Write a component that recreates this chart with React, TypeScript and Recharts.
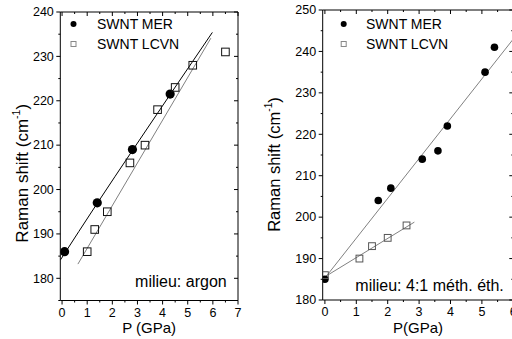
import React from "react";
import { ComposedChart, Scatter, Line, XAxis, YAxis, Legend } from "recharts";

const FONT = "'Liberation Sans', Arial, Helvetica, sans-serif";

/* ---------- left panel: argon ---------- */
const argonMer = [
  { p: 0.1, s: 186 },
  { p: 1.4, s: 197 },
  { p: 2.8, s: 209 },
  { p: 4.3, s: 221.5 },
];
const argonLcvn = [
  { p: 1.0, s: 186 },
  { p: 1.3, s: 191 },
  { p: 1.8, s: 195 },
  { p: 2.7, s: 206 },
  { p: 3.3, s: 210 },
  { p: 3.8, s: 218 },
  { p: 4.5, s: 223 },
  { p: 5.2, s: 228 },
  { p: 6.5, s: 231 },
];
// fitted curves
const argonMerFit = [
  { p: -0.07, s: 184.1 },
  { p: 1.4, s: 196.9 },
  { p: 2.8, s: 208.8 },
  { p: 4.3, s: 221.4 },
  { p: 5.98, s: 235.4 },
];
const argonLcvnFit = [
  { p: 0.63, s: 183.2 },
  { p: 5.92, s: 234.1 },
];
const argonXMajor = [0, 1, 2, 3, 4, 5, 6, 7];
const argonXMinor = [0.5, 1.5, 2.5, 3.5, 4.5, 5.5, 6.5];
const argonYMajor = [180, 190, 200, 210, 220, 230, 240];
const argonYMinor = [175, 185, 195, 205, 215, 225, 235];

/* ---------- right panel: 4:1 methanol-ethanol ---------- */
const methMer = [
  { p: 0, s: 185 },
  { p: 1.7, s: 204 },
  { p: 2.1, s: 207 },
  { p: 3.1, s: 214 },
  { p: 3.6, s: 216 },
  { p: 3.9, s: 222 },
  { p: 5.1, s: 235 },
  { p: 5.4, s: 241 },
];
const methLcvn = [
  { p: 0, s: 186 },
  { p: 1.1, s: 190 },
  { p: 1.5, s: 193 },
  { p: 2.0, s: 195 },
  { p: 2.6, s: 198 },
];
const methMerFit = [
  { p: 0, s: 185.3 },
  { p: 6, s: 243 },
];
const methLcvnFit = [
  { p: 0, s: 185.6 },
  { p: 2.85, s: 198.8 },
];
const methXMajor = [0, 1, 2, 3, 4, 5, 6];
const methXMinor = [0.5, 1.5, 2.5, 3.5, 4.5, 5.5];
const methYMajor = [180, 190, 200, 210, 220, 230, 240, 250];
const methYMinor = [185, 195, 205, 215, 225, 235, 245];

const seriesNames = ["SWNT MER", "SWNT LCVN"];

// one tick renderer per axis side; majors get a label (bottom/left only) and a longer mark
function makeTick(side: "bottom" | "top" | "left" | "right", majors: number[]) {
  return (props: any) => {
    const { x, y, payload } = props;
    const v = payload.value;
    const major = majors.includes(v);
    const len = major ? 4 : 2;
    if (side === "bottom") {
      return (
        <g>
          <line x1={x} y1={y} x2={x} y2={y + len} stroke="#000" />
          {major && (
            <text x={x} y={y + 16} textAnchor="middle" fontSize={12.5} fontFamily={FONT} fill="#000">
              {v}
            </text>
          )}
        </g>
      );
    }
    if (side === "top") {
      return <line x1={x} y1={y} x2={x} y2={y + len} stroke="#000" />;
    }
    if (side === "left") {
      return (
        <g>
          <line x1={x - len} y1={y} x2={x} y2={y} stroke="#000" />
          {major && (
            <text x={x - 6.5} y={y + 4.3} textAnchor="end" fontSize={12.5} fontFamily={FONT} fill="#000">
              {v}
            </text>
          )}
        </g>
      );
    }
    return <line x1={x - len} y1={y} x2={x} y2={y} stroke="#000" />;
  };
}

const dot = (r: number) => (props: any) => <circle cx={props.cx} cy={props.cy} r={r} fill="#000" />;
const square = (half: number, color: string) => (props: any) => (
  <rect x={props.cx - half} y={props.cy - half} width={half * 2} height={half * 2} fill="none" stroke={color} strokeWidth={1} />
);

// legend: only the two scatter series, kept in seriesNames order
function legendContent(markerX: number, textX: number) {
  return (props: any) => {
    const items = (props.payload || [])
      .filter((a: any) => seriesNames.includes(a.value))
      .sort((a: any, b: any) => seriesNames.indexOf(a.value) - seriesNames.indexOf(b.value));
    return (
      <svg width={180} height={52} style={{ display: "block", overflow: "visible" }}>
        {items.map((it: any, i: number) => (
          <g key={it.value}>
            {it.value === seriesNames[0] ? (
              <circle cx={markerX} cy={12 + i * 20} r={3} fill="#000" />
            ) : (
              <rect x={markerX - 2.5} y={9.5 + i * 20} width={5} height={5} fill="none" stroke="#888" />
            )}
            <text x={textX} y={17 + i * 20} fontSize={14} fontFamily={FONT} fill="#000">
              {it.value}
            </text>
          </g>
        ))}
      </svg>
    );
  };
}

function yTitle(dxCenter: number, dyOffset: number, size: number) {
  return (props: any) => {
    const vb = props.viewBox;
    const cx = vb.x + dxCenter;
    const cy = vb.y + vb.height / 2 + dyOffset;
    return (
      <text
        x={cx}
        y={cy}
        transform={`rotate(-90, ${cx}, ${cy})`}
        textAnchor="middle"
        dominantBaseline="central"
        fontSize={size}
        fontFamily={FONT}
        fill="#000"
      >
        Raman shift (cm
        <tspan dy={-6} fontSize={size * 0.62}>-1</tspan>
        <tspan dy={6}>)</tspan>
      </text>
    );
  };
}

function xTitle(text: string) {
  return (props: any) => {
    const vb = props.viewBox;
    return (
      <text x={vb.x + vb.width / 2} y={vb.y + 32.5} textAnchor="middle" fontSize={15} fontFamily={FONT} fill="#000">
        {text}
      </text>
    );
  };
}

function ArgonPanel() {
  return (
    <ComposedChart width={256} height={339} margin={{ top: 0, right: 0, bottom: 0, left: 0 }}>
      <XAxis
        type="number"
        dataKey="p"
        domain={[-0.07, 7]}
        allowDataOverflow
        ticks={[...argonXMajor, ...argonXMinor]}
        interval={0}
        tickSize={0}
        tickMargin={0}
        tick={makeTick("bottom", argonXMajor)}
        axisLine={{ stroke: "#000" }}
        height={38.5}
        label={{ content: xTitle("P (GPa)") }}
      />
      <XAxis
        xAxisId="top"
        orientation="top"
        type="number"
        dataKey="p"
        domain={[-0.07, 7]}
        allowDataOverflow
        ticks={[...argonXMajor, ...argonXMinor]}
        interval={0}
        tickSize={0}
        tickMargin={0}
        tick={makeTick("top", argonXMajor)}
        axisLine={{ stroke: "#000" }}
        height={12}
      />
      <YAxis
        type="number"
        dataKey="s"
        domain={[175, 240]}
        allowDataOverflow
        ticks={[...argonYMajor, ...argonYMinor]}
        interval={0}
        tickSize={0}
        tickMargin={0}
        tick={makeTick("left", argonYMajor)}
        axisLine={{ stroke: "#000" }}
        width={60.3}
        label={{ content: yTitle(22, 17, 17) }}
      />
      <YAxis
        yAxisId="right"
        orientation="right"
        type="number"
        dataKey="s"
        domain={[175, 240]}
        allowDataOverflow
        ticks={[...argonYMajor, ...argonYMinor]}
        interval={0}
        tickSize={0}
        tickMargin={0}
        tick={makeTick("right", argonYMajor)}
        axisLine={{ stroke: "#000" }}
        width={18}
      />
      <Legend
        layout="horizontal"
        verticalAlign="middle"
        align="center"
        wrapperStyle={{ left: 66, top: 12, width: 180, height: 52 }}
        content={legendContent(7.5, 31)}
      />
      <Line data={argonMerFit} dataKey="s" type="monotone" stroke="#000" strokeWidth={1} dot={false} activeDot={false} legendType="none" isAnimationActive={false} />
      <Line data={argonLcvnFit} dataKey="s" type="linear" stroke="#808080" strokeWidth={1} dot={false} activeDot={false} legendType="none" isAnimationActive={false} />
      <Scatter name={seriesNames[0]} data={argonMer} fill="#000" shape={dot(4.6)} isAnimationActive={false} />
      <Scatter name={seriesNames[1]} data={argonLcvn} fill="#000" shape={square(3.8, "#111")} isAnimationActive={false} />
    </ComposedChart>
  );
}

function MethPanel() {
  return (
    <ComposedChart width={260} height={339} margin={{ top: 0, right: 0, bottom: 0, left: 0 }}>
      <XAxis
        type="number"
        dataKey="p"
        domain={[-0.07, 6]}
        allowDataOverflow
        ticks={[...methXMajor, ...methXMinor]}
        interval={0}
        tickSize={0}
        tickMargin={0}
        tick={makeTick("bottom", methXMajor)}
        axisLine={{ stroke: "#000" }}
        height={39}
        label={{ content: xTitle("P(GPa)") }}
      />
      <XAxis
        xAxisId="top"
        orientation="top"
        type="number"
        dataKey="p"
        domain={[-0.07, 6]}
        allowDataOverflow
        ticks={[...methXMajor, ...methXMinor]}
        interval={0}
        tickSize={0}
        tickMargin={0}
        tick={makeTick("top", methXMajor)}
        axisLine={{ stroke: "#000" }}
        height={10}
      />
      <YAxis
        type="number"
        dataKey="s"
        domain={[180, 250]}
        allowDataOverflow
        ticks={[...methYMajor, ...methYMinor]}
        interval={0}
        tickSize={0}
        tickMargin={0}
        tick={makeTick("left", methYMajor)}
        axisLine={{ stroke: "#000" }}
        width={66.7}
        label={{ content: yTitle(18, 9.5, 16.5) }}
      />
      <YAxis
        yAxisId="right"
        orientation="right"
        type="number"
        dataKey="s"
        domain={[180, 250]}
        allowDataOverflow
        ticks={[...methYMajor, ...methYMinor]}
        interval={0}
        tickSize={0}
        tickMargin={0}
        tick={makeTick("right", methYMajor)}
        axisLine={{ stroke: "#000" }}
        width={2.7}
      />
      <Legend
        layout="horizontal"
        verticalAlign="middle"
        align="center"
        wrapperStyle={{ left: 80, top: 12, width: 180, height: 52 }}
        content={legendContent(7.7, 30)}
      />
      <Line data={methMerFit} dataKey="s" type="linear" stroke="#808080" strokeWidth={1} dot={false} activeDot={false} legendType="none" isAnimationActive={false} />
      <Line data={methLcvnFit} dataKey="s" type="linear" stroke="#808080" strokeWidth={1} dot={false} activeDot={false} legendType="none" isAnimationActive={false} />
      <Scatter name={seriesNames[0]} data={methMer} fill="#000" shape={dot(3.8)} isAnimationActive={false} />
      <Scatter name={seriesNames[1]} data={methLcvn} fill="#555" shape={square(3.4, "#555")} isAnimationActive={false} />
    </ComposedChart>
  );
}

export default function App() {
  return (
    <div
      style={{
        position: "absolute",
        left: 0,
        top: 0,
        width: 512,
        height: 339,
        overflow: "hidden",
        background: "#fff",
        fontFamily: FONT,
      }}
    >
      <div style={{ position: "absolute", left: 0, top: 0 }}>
        <ArgonPanel />
      </div>
      <div style={{ position: "absolute", left: 256, top: 0 }}>
        <MethPanel />
      </div>
      <svg width={512} height={339} style={{ position: "absolute", left: 0, top: 0, pointerEvents: "none" }}>
        <text x={226.7} y={287.3} textAnchor="end" fontSize={16} fontFamily={FONT} fill="#000">
          milieu: argon
        </text>
        <text x={355.3} y={290.7} fontSize={16} fontFamily={FONT} fill="#000">
          milieu: 4:1 méth. éth.
        </text>
      </svg>
    </div>
  );
}
